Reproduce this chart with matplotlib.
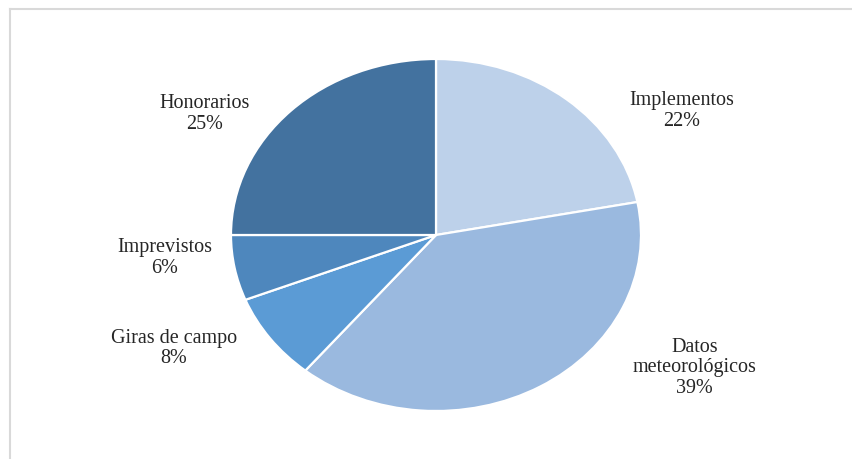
import matplotlib
matplotlib.use("Agg")
import matplotlib.pyplot as plt
from matplotlib.lines import Line2D

categories = ["Implementos", "Datos\nmeteorológicos", "Giras de campo", "Imprevistos", "Honorarios"]
values = [22, 39, 8, 6, 25]
colors = ["#BDD1EA", "#9AB9DF", "#5B9BD5", "#4E87BD", "#43729F"]
# label anchor positions in axes data units (pie radius = 1)
label_pos = [(1.20, 0.71), (1.26, -0.75), (-1.278, -0.64), (-1.322, -0.125), (-1.127, 0.693)]

W, H = 852, 460
fig = plt.figure(figsize=(W / 100, H / 100), dpi=100)
fig.patch.set_facecolor("white")

cx, cy, rx, ry = 436, 236, 205, 176
ax = fig.add_axes([(cx - rx) / W, (H - cy - ry) / H, 2 * rx / W, 2 * ry / H])
wedges, _ = ax.pie(values, colors=colors, startangle=90, counterclock=False,
                   wedgeprops=dict(edgecolor="white", linewidth=1.6))
ax.set_aspect("auto")
ax.set_xlim(-1, 1)
ax.set_ylim(-1, 1)
ax.axis("off")

for name, v, (x, y) in zip(categories, values, label_pos):
    ax.text(x, y, f"{name}\n{v}%", ha="center", va="center",
            fontsize=14.5, family="Liberation Serif", color="#262626",
            linespacing=1.08, clip_on=False)

# chart frame (only partly visible)
fig.add_artist(Line2D([10 / W, 1], [1 - 10 / H, 1 - 10 / H], color="#D9D9D9", lw=1.5,
                      transform=fig.transFigure))
fig.add_artist(Line2D([10 / W, 10 / W], [0, 1 - 10 / H], color="#D9D9D9", lw=1.5,
                      transform=fig.transFigure))

fig.savefig("out.png", dpi=100)
